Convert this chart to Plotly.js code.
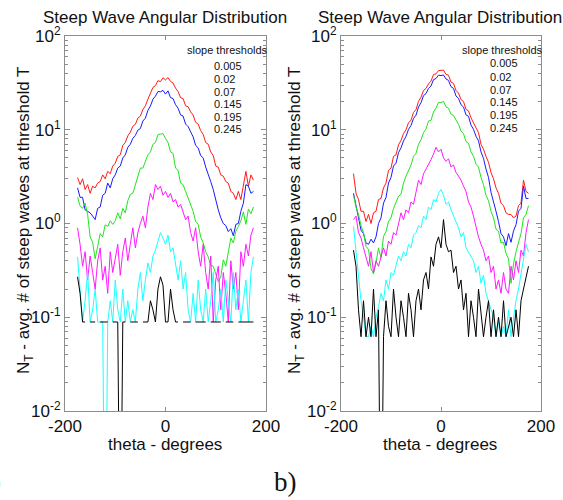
<!DOCTYPE html>
<html><head><meta charset="utf-8">
<script src="https://cdn.plot.ly/plotly-3.0.1.min.js"></script>
<style>html,body{margin:0;padding:0;background:#fff}#chart{width:563px;height:500px}</style>
</head><body><div id="chart"></div>
<script>
// theta - degrees
const theta = [-175,-170,-165,-160,-155,-150,-145,-140,-135,-130,
  -125,-120,-115,-110,-105,-100,-95,-90,-85,-80,
  -75,-70,-65,-60,-55,-50,-45,-40,-35,-30,
  -25,-20,-15,-10,-5,0,5,10,15,20,
  25,30,35,40,45,50,55,60,65,70,
  75,80,85,90,95,100,105,110,115,120,
  125,130,135,140,145,150,155,160,165,170,175];

const thresholds = ['0.005','0.02','0.07','0.145','0.195','0.245'];
const colors = ['#ff1a1a','#1a1aff','#1ee61e','#ff1aff','#1affff','#000000'];

// Panel a)
const a_005 = [3.1,2.6,3.0,2.3,2.6,2.1,2.5,2.4,2.7,2.8,
  3.3,3.0,3.6,3.4,4.1,4.4,5.2,5.4,6.8,7.3,
  8.6,9.4,10.9,11.4,13.3,14.0,16.4,18.0,21.2,24.2,
  28.3,29.6,33.4,32.6,35.8,34.0,36.0,32.8,31.5,27.8,
  25.6,22.0,21.5,18.0,17.6,15.5,14.3,12.0,11.5,9.8,
  8.9,7.3,7.0,5.8,5.3,4.1,4.0,3.3,3.2,2.8,
  2.7,2.2,2.1,1.8,2.2,1.8,2.5,3.6,2.5,3.3,2.9];
const a_02 = [2.4,1.9,1.9,1.4,1.35,1.3,1.2,1.1,1.45,1.5,
  2.0,2.1,2.7,2.4,3.0,3.3,3.9,4.1,5.0,5.4,
  6.5,7.0,8.1,8.7,9.9,10.3,12.4,13.3,16.1,17.9,
  21.2,22.8,25.6,25.4,26.3,24.0,26.0,22.0,21.5,18.5,
  17.0,14.4,14.0,11.5,10.8,9.5,8.4,6.8,6.4,5.3,
  5.0,4.0,3.4,2.8,2.3,1.75,1.4,1.15,1.0,0.95,
  0.82,0.88,0.74,0.98,1.0,1.35,1.65,2.6,2.5,2.1,2.2];
const a_07 = [1.9,1.55,1.45,1.65,1.25,0.72,0.63,0.42,0.57,0.78,
  0.72,0.97,0.93,1.07,0.98,1.07,1.3,1.12,1.45,1.3,
  1.75,2.05,2.1,2.6,3.2,3.9,3.9,4.5,5.4,5.8,
  7.0,7.3,8.9,9.0,9.1,8.1,7.3,5.8,5.6,3.9,
  3.7,2.7,2.6,2.2,1.85,1.55,1.35,1.05,0.98,0.72,
  0.62,0.5,0.44,0.36,0.35,0.29,0.24,0.27,0.41,0.35,
  0.52,0.7,0.62,0.83,0.93,1.07,1.33,0.98,1.43,1.27,1.5];
const a_145 = [0.9,0.6,0.35,0.5,0.25,0.45,0.3,0.2,0.4,0.55,
  0.25,0.35,0.18,0.5,0.3,0.45,0.6,0.28,0.5,0.7,
  0.4,0.6,0.9,0.55,0.8,1.0,1.2,0.9,1.5,2.1,
  1.8,2.6,2.3,2.5,2.0,2.2,1.9,2.1,1.7,1.8,
  1.5,1.6,1.3,1.1,1.2,0.8,0.65,0.9,0.5,0.35,
  0.6,0.3,0.2,0.45,0.089,0.25,0.35,0.12,0.3,0.18,
  0.089,0.4,0.2,0.3,0.12,0.5,0.35,0.6,0.45,0.75,0.9];
const a_195 = [0.44,0.2,0.089,0.15,0.3,0.089,0.12,0.2,0.089,0.089,
  0.089,0.0001,0.089,0.15,0.089,0.25,0.12,0.089,0.2,0.089,
  0.15,0.089,0.12,0.089,0.2,0.3,0.15,0.25,0.38,0.3,
  0.45,0.52,0.65,0.8,0.7,0.6,0.75,0.5,0.55,0.35,
  0.25,0.4,0.2,0.3,0.12,0.089,0.18,0.089,0.25,0.12,
  0.089,0.2,0.089,0.15,0.3,0.089,0.12,0.2,0.089,0.25,
  0.15,0.089,0.3,0.12,0.2,0.089,0.15,0.25,0.089,0.3,0.44];
const a_245 = [0.27,0.18,0.089,0.089,null,0.089,0.089,0.089,null,0.089,
  0.089,0.089,0.089,null,0.089,0.089,0.089,0.0001,0.089,0.089,
  null,0.089,0.089,0.089,0.089,null,0.089,0.089,0.089,0.15,
  0.12,0.089,0.2,0.27,0.22,0.089,0.089,0.2,0.12,0.089,
  0.089,null,0.089,0.089,0.089,0.089,null,0.089,0.089,0.089,
  0.089,0.089,null,0.089,0.089,0.089,0.089,0.089,null,0.089,
  0.089,0.089,0.089,null,0.089,0.089,0.089,0.089,0.089,0.089,0.089];

// Panel b)
const b_005 = [3.4,2.1,1.8,1.35,1.35,1.05,1.25,1.0,1.3,1.35,
  1.8,1.85,2.4,2.7,3.7,3.9,5.2,5.4,6.9,7.7,
  9.1,10.0,11.9,12.6,15.3,16.4,20.1,22.2,26.2,27.6,
  30.8,33.0,38.8,39.5,42.8,43.0,43.2,39.0,38.2,32.2,
  31.2,26.2,24.6,21.0,20.0,16.5,15.9,13.4,11.8,10.2,
  9.3,7.0,6.2,5.2,4.5,3.5,3.0,2.4,2.1,1.65,
  1.55,1.3,1.25,1.25,1.15,1.2,1.55,1.65,2.9,2.2,2.1];
const b_02 = [2.1,1.6,1.15,0.85,0.78,0.62,0.6,0.68,0.62,0.72,
  1.0,1.15,1.65,1.9,2.7,3.1,4.1,4.4,5.7,6.4,
  7.6,8.5,10.1,11.1,13.2,14.3,17.5,19.4,23.1,24.3,
  27.6,29.3,34.2,35.2,38.2,37.8,38.4,34.8,33.6,28.8,
  27.6,22.9,21.6,18.5,17.5,14.4,13.9,11.2,10.1,8.5,
  7.6,5.8,4.95,3.8,3.1,2.15,1.75,1.35,1.05,0.78,
  0.72,0.58,0.78,0.63,0.83,0.97,1.35,1.45,2.5,1.85,1.85];
const b_07 = [2.0,1.5,1.25,0.95,0.8,0.57,0.53,0.33,0.29,0.38,
  0.55,0.43,0.73,0.82,1.05,1.15,1.45,1.65,1.95,2.05,
  2.7,3.2,3.7,4.2,5.2,5.6,7.0,7.8,9.3,10.2,
  12.4,12.6,15.5,17.0,19.6,19.4,20.1,17.5,17.0,14.6,
  14.2,12.6,11.4,9.7,9.1,7.5,7.2,5.8,5.2,4.3,
  4.0,3.1,2.6,2.0,1.75,1.35,1.15,0.87,0.83,0.62,
  0.63,0.48,0.42,0.23,0.37,0.5,0.63,0.78,1.15,1.25,1.55];
const b_145 = [1.1,1.2,0.8,0.7,0.55,0.45,0.35,0.5,0.3,0.4,
  0.35,0.44,0.55,0.45,0.65,0.6,0.8,0.75,1.0,1.3,
  1.1,1.4,1.3,1.7,1.6,2.2,2.9,2.6,3.4,3.8,
  4.2,4.8,5.5,6.5,5.8,6.2,5.0,4.6,4.9,4.0,
  4.2,3.5,3.2,2.9,2.5,2.2,1.7,1.5,1.2,0.9,
  0.72,0.6,0.52,0.4,0.45,0.3,0.35,0.2,0.25,0.18,
  0.3,0.2,0.18,0.35,0.25,0.4,0.3,0.52,0.45,0.8,1.1];
const b_195 = [0.93,0.5,0.3,0.15,0.1,0.062,0.062,0.08,0.062,0.1,
  0.13,0.18,0.15,0.25,0.2,0.3,0.28,0.35,0.45,0.4,
  0.5,0.45,0.6,0.55,0.75,0.8,0.95,0.9,1.2,1.1,
  1.5,1.4,1.8,1.7,2.1,2.3,2.0,1.6,1.7,1.4,
  1.2,1.0,0.9,0.72,0.8,0.55,0.5,0.45,0.4,0.3,
  0.35,0.23,0.28,0.18,0.15,0.12,0.1,0.062,0.09,0.062,
  0.08,0.062,0.12,0.062,0.1,0.15,0.2,0.3,0.45,0.6,0.5];
const b_245 = [0.52,0.35,0.12,0.062,0.15,0.062,0.1,0.062,0.2,0.062,
  0.12,0.0001,0.062,0.15,0.08,0.062,0.2,0.1,0.062,0.15,
  0.1,0.062,0.18,0.12,0.062,0.15,0.2,0.12,0.25,0.3,
  0.2,0.44,0.35,0.6,0.72,0.55,1.1,0.6,0.5,0.52,
  0.3,0.35,0.2,0.25,0.12,0.18,0.062,0.15,0.1,0.062,
  0.2,0.12,0.062,0.1,0.15,0.062,0.12,0.062,0.1,0.062,
  0.15,0.062,0.08,0.1,0.062,0.12,0.062,0.15,0.2,0.27,0.35];

const xTickVals = [-200, 0, 200];
const xTickText = ['-200', '0', '200'];
const yTickVals = [0.01, 0.1, 1, 10, 100];
const yTickText = ['10<sup>-2</sup>', '10<sup>-1</sup>', '10<sup>0</sup>', '10<sup>1</sup>', '10<sup>2</sup>'];
const yMinorVals = [0.02,0.03,0.04,0.05,0.06,0.07,0.08,0.09,
  0.2,0.3,0.4,0.5,0.6,0.7,0.8,0.9,
  2,3,4,5,6,7,8,9,
  20,30,40,50,60,70,80,90];

const titleText = 'Steep Wave Angular Distribution';
const xTitleText = 'theta - degrees';
const yTitleText = 'N<sub>T</sub> - avg. # of steep waves at threshold T';
const legendTitle = 'slope thresholds';

const panelA = [a_005, a_02, a_07, a_145, a_195, a_245];
const panelB = [b_005, b_02, b_07, b_145, b_195, b_245];

const traces = [];
panelA.forEach((ys, i) => traces.push({x: theta, y: ys, type: 'scatter', mode: 'lines',
  line: {color: colors[i], width: 1}, xaxis: 'x', yaxis: 'y', connectgaps: false,
  name: thresholds[i], showlegend: false}));
panelB.forEach((ys, i) => traces.push({x: theta, y: ys, type: 'scatter', mode: 'lines',
  line: {color: colors[i], width: 1}, xaxis: 'x2', yaxis: 'y2', connectgaps: false,
  name: thresholds[i], showlegend: false}));

const FONT = 'Liberation Sans, Arial, sans-serif';
const axisGrey = '#8c8c8c';
function xAx(dom, anchor) {
  return {domain: dom, anchor: anchor, range: [-200, 200], tickmode: 'array',
    tickvals: xTickVals, ticktext: xTickText, ticks: 'inside', ticklen: 4,
    tickcolor: axisGrey, showline: true, linecolor: axisGrey, linewidth: 1,
    mirror: 'ticks', showgrid: false, zeroline: false,
    tickfont: {family: FONT, size: 17, color: '#111'}};
}
function yAx(anchor) {
  return {domain: [0.178, 0.928], anchor: anchor, type: 'log', range: [-2, 2],
    tickmode: 'array', tickvals: yTickVals, ticktext: yTickText,
    ticks: 'inside', ticklen: 5, tickcolor: axisGrey,
    minor: {tickmode: 'array', tickvals: yMinorVals, ticks: 'inside', ticklen: 3,
      tickcolor: axisGrey, showgrid: false},
    showline: true, linecolor: axisGrey, linewidth: 1, mirror: 'ticks',
    showgrid: false, zeroline: false,
    tickfont: {family: FONT, size: 17, color: '#111'}};
}

const ann = [];
const px = v => v / 563, py = v => 1 - v / 500;
function txt(text, x, y, size, opts) {
  ann.push(Object.assign({text: text, x: px(x), y: py(y), xref: 'paper', yref: 'paper',
    showarrow: false, xanchor: 'center', yanchor: 'middle',
    font: {family: FONT, size: size, color: '#111'}}, opts || {}));
}
txt(titleText, 165, 17, 17);
txt(titleText, 440, 17, 17);
txt(xTitleText, 165, 444, 17);
txt(xTitleText, 440, 444, 17);
txt(yTitleText, 25, 221, 17, {textangle: -90});
txt(yTitleText, 296, 221, 17, {textangle: -90});
txt(legendTitle, 227.5, 50, 11);
txt(legendTitle, 502.5, 50, 11);
const legA = [66, 79, 92, 104, 117, 129];
const legB = [63, 77, 90, 102, 115, 128];
thresholds.forEach((t, i) => {
  txt(t, 212, legA[i], 11, {xanchor: 'left'});
  txt(t, 488, legB[i], 11, {xanchor: 'left'});
});
txt('a)', -10, 482, 27, {font: {family: 'Liberation Serif, Times New Roman, serif', size: 27, color: '#111'}});
txt('b)', 285, 482, 27, {font: {family: 'Liberation Serif, Times New Roman, serif', size: 27, color: '#111'}});

const layout = {
  width: 563, height: 500, margin: {l: 0, r: 0, t: 0, b: 0},
  paper_bgcolor: '#fff', plot_bgcolor: '#fff', showlegend: false,
  font: {family: FONT, color: '#111'},
  xaxis: xAx([65/563, 266/563], 'y'),
  yaxis: yAx('x'),
  xaxis2: xAx([341/563, 541/563], 'y2'),
  yaxis2: yAx('x2'),
  annotations: ann
};
Plotly.newPlot('chart', traces, layout, {staticPlot: true, displayModeBar: false});
</script>
</body></html>
